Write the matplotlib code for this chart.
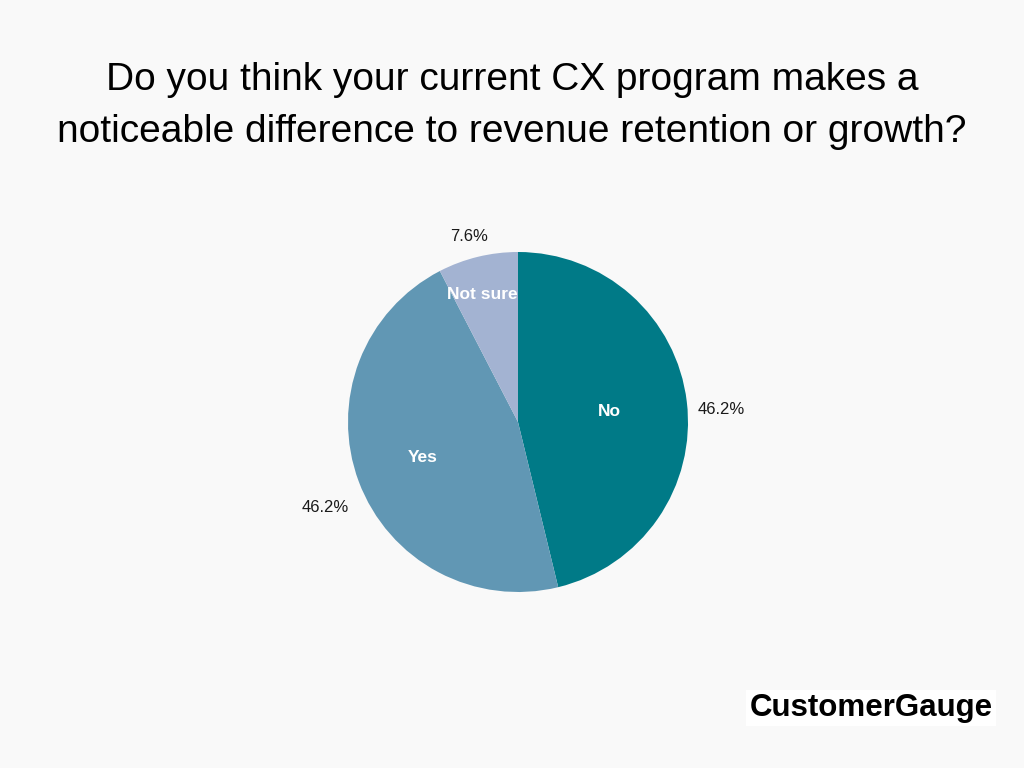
import numpy as np
import matplotlib.pyplot as plt

labels = ["No", "Yes", "Not sure"]
shares = [46.2, 46.2, 7.6]
pct_labels = ["46.2%", "46.2%", "7.6%"]
colors = ["#007a87", "#6197b4", "#a3b3d2"]

title = "Do you think your current CX program makes a\nnoticeable difference to revenue retention or growth?"

bg = "#f9f9f9"
fig = plt.figure(figsize=(10.24, 7.68), dpi=100, facecolor=bg)

fig.text(0.5, 1 - 106 / 768, title, ha="center", va="center", fontsize=28,
         family="Liberation Sans", linespacing=1.6, color="black")

ax = fig.add_axes([348 / 1024, 176 / 768, 340 / 1024, 340 / 768])
ax.set_facecolor(bg)
wedges, _ = ax.pie(shares, colors=colors, startangle=90, counterclock=False,
                   radius=1, wedgeprops=dict(linewidth=0))
ax.set_xlim(-1, 1)
ax.set_ylim(-1, 1)
ax.set_aspect("equal")
ax.axis("off")

# label placement (radius, angle nudge in degrees)
in_r = [0.54, 0.6, 0.78]
in_nudge = [0, 0, 2]
out_r = [1.2, 1.24, 1.13]
out_nudge = [-3.2, 3.5, 1.0]
for w, lab, pct, ri, dn, ro, do in zip(wedges, labels, pct_labels, in_r, in_nudge, out_r, out_nudge):
    mid = (w.theta1 + w.theta2) / 2
    a = np.deg2rad(mid + dn)
    ax.text(ri * np.cos(a), ri * np.sin(a), lab, ha="center", va="center",
            color="white", fontsize=12.5, fontweight="bold", family="Liberation Sans",
            clip_on=False)
    a = np.deg2rad(mid + do)
    ax.text(ro * np.cos(a), ro * np.sin(a), pct, ha="center", va="center",
            color="#1a1a1a", fontsize=12, family="Liberation Sans", clip_on=False)

fig.text(871 / 1024, 1 - 708 / 768, "CustomerGauge", ha="center", va="center",
         fontsize=22.5, fontweight="bold", family="Liberation Sans", color="black",
         bbox=dict(facecolor="white", edgecolor="none", pad=2.5))

fig.savefig("out.png", dpi=100, facecolor=bg)
